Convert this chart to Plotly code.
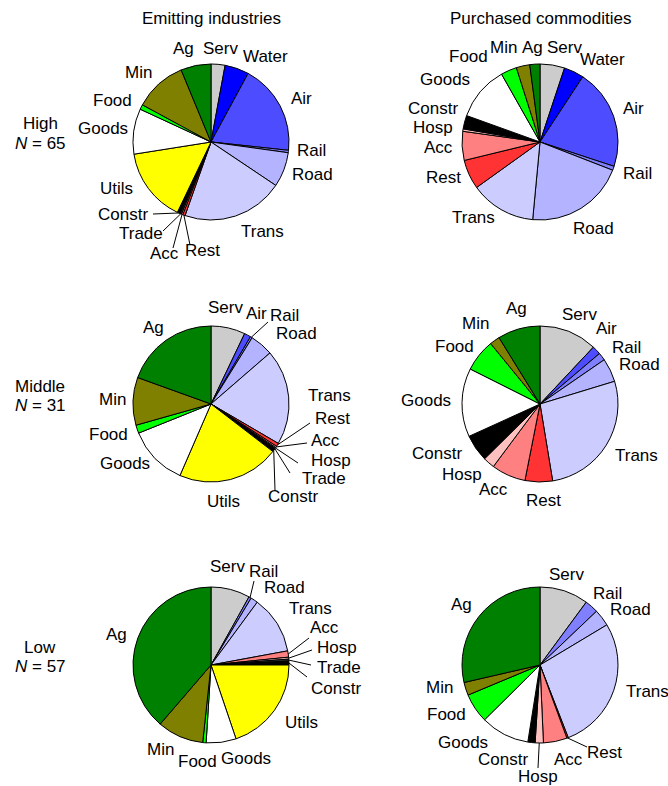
import math
import plotly.graph_objects as go

categories = ["Serv", "Water", "Air", "Rail", "Road", "Trans", "Rest", "Acc", "Hosp",
              "Trade", "Constr", "Utils", "Goods", "Food", "Min", "Ag"]

colors = ["#CCCCCC", "#0000FF", "#4D4DFF", "#8080FF", "#B3B3FF", "#CCCCFF", "#FF3333",
          "#FF8080", "#FFC0C0", "#333333", "#000000", "#FFFF00", "#FFFFFF", "#00FF00",
          "#808000", "#008000"]

# values (%) in category order; 0 = not present
emit_high = [2.9, 5.0, 18.8, 0.5, 7.2, 21.0, 0.5, 0.3, 0.0, 0.3, 0.6, 15.4, 9.4, 1.0, 10.85, 6.25]
purch_high = [5.1, 4.15, 20.8, 0.85, 20.6, 13.6, 6.1, 6.0, 0.5, 0.0, 2.8, 0.0, 11.3, 3.3, 2.8, 2.1]
emit_mid = [7.1, 0.0, 1.35, 0.4, 4.8, 19.8, 0.7, 0.3, 0.2, 0.2, 0.6, 21.1, 12.4, 1.7, 9.9, 19.5]
purch_mid = [12.0, 0.0, 1.8, 1.6, 4.9, 27.1, 5.7, 7.1, 2.4, 0.0, 5.6, 0.0, 14.2, 6.7, 2.1, 8.8]
emit_low = [8.1, 0.0, 0.0, 0.5, 1.5, 12.0, 0.0, 1.3, 0.4, 0.4, 0.8, 19.8, 6.2, 0.7, 9.6, 38.7]
purch_low = [10.1, 0.0, 0.0, 2.8, 3.5, 27.7, 0.3, 4.9, 1.7, 0.0, 1.5, 0.0, 10.1, 6.1, 2.7, 28.6]

column_titles = ["Emitting industries", "Purchased commodities"]
row_names = ["High", "Middle", "Low"]
row_n = [65, 31, 57]

# ---- layout (pixels) ----
W, H = 668, 786
FONT = "Liberation Sans, Arial, Helvetica, sans-serif"
FS = 17
col_cx = [211, 540]
row_cy = [142, 404, 665]
R = 78

# label text centres relative to each pie centre, and leader-line end points
label_pos = [
    [
        {"Ag": (-28, -93), "Serv": (9, -93), "Water": (54, -85), "Air": (90, -43),
         "Rail": (100, 8), "Road": (101, 32), "Trans": (51, 89), "Rest": (-9, 108),
         "Acc": (-47, 111), "Trade": (-70, 92), "Constr": (-88, 72), "Utils": (-95, 46),
         "Goods": (-108, -14), "Food": (-99, -42), "Min": (-73, -70)},
        {"Ag": (-8, -95), "Serv": (24, -95), "Water": (62, -83), "Air": (93, -34),
         "Rail": (97, 31), "Road": (53, 86), "Trans": (-67, 76), "Rest": (-97, 35),
         "Acc": (-102, 5), "Hosp": (-107, -15), "Constr": (-107, -33), "Goods": (-95, -63),
         "Food": (-72, -85), "Min": (-36, -95)},
    ],
    [
        {"Serv": (14, -97), "Air": (45, -90), "Rail": (73, -88), "Road": (85, -71),
         "Trans": (118, -8), "Rest": (121, 14), "Acc": (114, 36), "Hosp": (120, 56),
         "Trade": (113, 74), "Constr": (82, 93), "Utils": (12, 97), "Goods": (-86, 60),
         "Food": (-103, 30), "Min": (-99, -5), "Ag": (-58, -77)},
        {"Ag": (-24, -96), "Serv": (39, -89), "Air": (66, -75), "Rail": (86, -57),
         "Road": (99, -40), "Trans": (96, 51), "Rest": (3, 96), "Acc": (-47, 85),
         "Hosp": (-78, 70), "Constr": (-103, 49), "Goods": (-114, -4), "Food": (-85, -58),
         "Min": (-65, -81)},
    ],
    [
        {"Serv": (16, -99), "Rail": (52, -94), "Road": (73, -78), "Trans": (99, -57),
         "Acc": (113, -38), "Hosp": (126, -18), "Trade": (128, 2), "Constr": (125, 23),
         "Utils": (90, 57), "Goods": (35, 93), "Food": (-14, 96), "Min": (-51, 84),
         "Ag": (-95, -31)},
        {"Serv": (26, -91), "Rail": (67, -72), "Road": (90, -56), "Trans": (107, 26),
         "Rest": (64, 87), "Acc": (28, 94), "Hosp": (-2, 111), "Constr": (-37, 94),
         "Goods": (-77, 77), "Food": (-94, 49), "Min": (-101, 22), "Ag": (-79, -61)},
    ],
]
leader_end = [
    [
        {"Constr": (-58, 72), "Trade": (-48, 89), "Acc": (-38, 106), "Rest": (-21, 103)},
        {},
    ],
    [
        {"Rail": (57, -82), "Rest": (99, 19), "Acc": (96, 39), "Hosp": (87, 59),
         "Trade": (79, 69), "Constr": (64, 86)},
        {},
    ],
    [
        {"Rail": (43, -84), "Acc": (98, -27), "Hosp": (101, -15), "Trade": (100, 0),
         "Constr": (96, 12)},
        {"Rest": (47, 82), "Hosp": (-2, 103)},
    ],
]

pies = [[emit_high, purch_high], [emit_mid, purch_mid], [emit_low, purch_low]]

fig = go.Figure()
ann = []
shapes = []


def px(x):
    return x / W


def py(y):
    return 1 - y / H


for ri, row in enumerate(pies):
    for ci, vals in enumerate(row):
        labs = [c for c, v in zip(categories, vals) if v > 0]
        vs = [v for v in vals if v > 0]
        cols = [col for col, v in zip(colors, vals) if v > 0]
        cx, cy = col_cx[ci], row_cy[ri]
        fig.add_trace(go.Pie(
            labels=labs, values=vs, sort=False, direction="clockwise", rotation=0,
            marker=dict(colors=cols, line=dict(color="black", width=1)),
            textinfo="none",
            domain=dict(x=[px(cx - R), px(cx + R)], y=[py(cy + R), py(cy - R)]),
            hoverinfo="label+value", showlegend=False,
        ))
        total = sum(vs)
        cum = 0.0
        for lab, v in zip(labs, vs):
            mid = (cum + v / 2) / total * 2 * math.pi
            cum += v
            dx, dy = label_pos[ri][ci].get(lab, (1.12 * R * math.sin(mid), -1.12 * R * math.cos(mid)))
            ann.append(dict(x=px(cx + dx), y=py(cy + dy), text=lab, showarrow=False,
                            xref="paper", yref="paper", xanchor="center", yanchor="middle",
                            font=dict(family=FONT, size=FS, color="black")))
            if lab in leader_end[ri][ci]:
                ex, ey = leader_end[ri][ci][lab]
                sx, sy = cx + R * math.sin(mid), cy - R * math.cos(mid)
                shapes.append(dict(type="line", xref="paper", yref="paper",
                                   x0=px(sx), y0=py(sy), x1=px(cx + ex), y1=py(cy + ey),
                                   line=dict(color="black", width=1)))

for ci, t in enumerate(column_titles):
    ann.append(dict(x=px(col_cx[ci]), y=py(18), text=t, showarrow=False,
                    xref="paper", yref="paper", xanchor="center", yanchor="middle",
                    font=dict(family=FONT, size=FS, color="black")))
for ri, name in enumerate(row_names):
    cy = row_cy[ri]
    ann.append(dict(x=px(40), y=py(cy - 18), text=name, showarrow=False,
                    xref="paper", yref="paper", xanchor="center", yanchor="middle",
                    font=dict(family=FONT, size=FS, color="black")))
    ann.append(dict(x=px(40), y=py(cy + 1), text="<i>N</i> = %d" % row_n[ri],
                    showarrow=False, xref="paper", yref="paper", xanchor="center",
                    yanchor="middle", font=dict(family=FONT, size=FS, color="black")))

fig.update_layout(width=W, height=H, margin=dict(l=0, r=0, t=0, b=0),
                  paper_bgcolor="white", plot_bgcolor="white",
                  annotations=ann, shapes=shapes,
                  font=dict(family=FONT, size=FS, color="black"))

fig.write_html("out.html")
